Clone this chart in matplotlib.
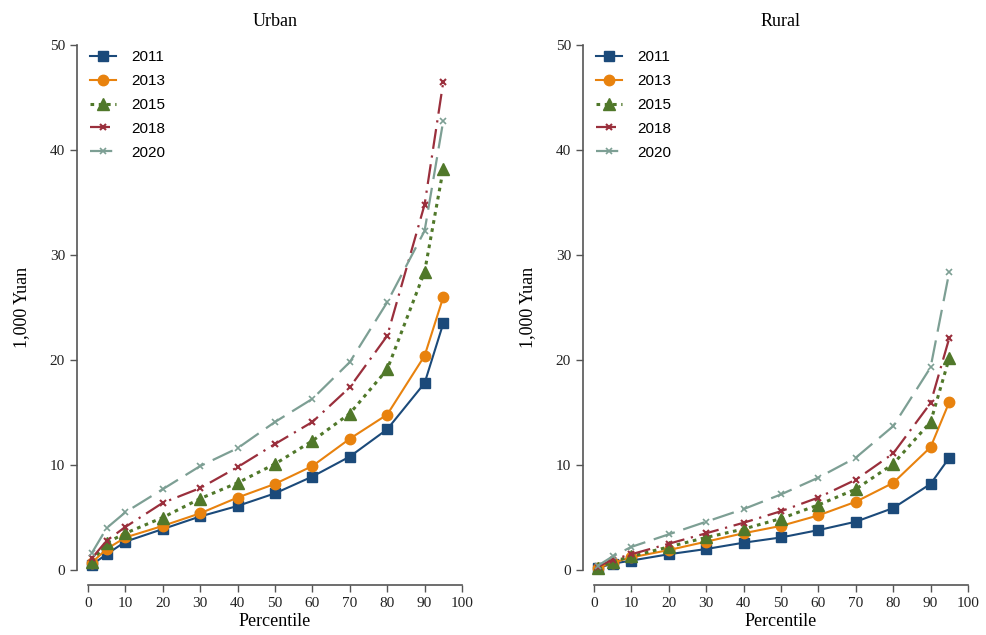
import matplotlib.pyplot as plt
import numpy as np

# percentiles on the x axis
pct = [1, 5, 10, 20, 30, 40, 50, 60, 70, 80, 90, 95]
years = ["2011", "2013", "2015", "2018", "2020"]

urban_2011 = [0.5, 1.5, 2.7, 3.9, 5.1, 6.1, 7.3, 8.9, 10.8, 13.4, 17.8, 23.5]
urban_2013 = [0.7, 2.0, 3.1, 4.2, 5.4, 6.9, 8.2, 9.9, 12.5, 14.8, 20.4, 26.0]
urban_2015 = [0.8, 2.6, 3.5, 5.0, 6.8, 8.3, 10.1, 12.3, 14.9, 19.1, 28.4, 38.2]
urban_2018 = [1.1, 2.8, 4.1, 6.4, 7.8, 9.8, 12.0, 14.1, 17.4, 22.3, 34.8, 46.5]
urban_2020 = [1.6, 4.0, 5.5, 7.7, 9.9, 11.6, 14.1, 16.3, 19.8, 25.5, 32.3, 42.8]

rural_2011 = [0.2, 0.6, 0.9, 1.5, 2.0, 2.6, 3.1, 3.8, 4.6, 5.9, 8.2, 10.7]
rural_2013 = [0.2, 0.7, 1.2, 1.9, 2.7, 3.5, 4.2, 5.2, 6.5, 8.3, 11.7, 16.0]
rural_2015 = [0.2, 0.8, 1.3, 2.2, 3.1, 3.9, 4.9, 6.2, 7.7, 10.1, 14.1, 20.2]
rural_2018 = [0.3, 1.0, 1.5, 2.5, 3.5, 4.5, 5.6, 6.9, 8.6, 11.1, 15.9, 22.1]
rural_2020 = [0.4, 1.3, 2.2, 3.4, 4.6, 5.8, 7.2, 8.8, 10.7, 13.7, 19.3, 28.4]

urban = [urban_2011, urban_2013, urban_2015, urban_2018, urban_2020]
rural = [rural_2011, rural_2013, rural_2015, rural_2018, rural_2020]

styles = [
    dict(color="#1b4a7a", marker="s", ms=7, ls="-", lw=1.5),
    dict(color="#e8820e", marker="o", ms=7.5, ls="-", lw=1.5),
    dict(color="#50782a", marker="^", ms=8, ls=(0, (1.2, 1.5)), lw=2.2),
    dict(color="#9a2f3c", marker="x", ms=5, mew=1.5, ls=(0, (9, 3, 1, 3)), lw=1.6),
    dict(color="#7d9f94", marker="x", ms=5, mew=1.2, ls=(0, (10, 4)), lw=1.6),
]

serif = "Liberation Serif"
sans = "Liberation Sans"
gray = "#555555"

fig = plt.figure(figsize=(9.87, 6.35), dpi=100)
ax1 = fig.add_axes([88 / 987, 65 / 635, 374 / 987, 525 / 635])
ax2 = fig.add_axes([594 / 987, 65 / 635, 374 / 987, 525 / 635])

for ax, data, title in [(ax1, urban, "Urban"), (ax2, rural, "Rural")]:
    for yr, vals, st in zip(years, data, styles):
        ax.plot(pct, vals, label=yr, clip_on=False, **st)
    ax.set_xlim(0, 100)
    ax.set_ylim(0, 50)
    ax.set_xticks(np.arange(0, 101, 10))
    ax.set_yticks(np.arange(0, 51, 10))
    ax.spines["top"].set_visible(False)
    ax.spines["right"].set_visible(False)
    ax.spines["left"].set_position(("outward", 8))
    ax.spines["bottom"].set_position(("outward", 11))
    for s in ["left", "bottom"]:
        ax.spines[s].set_color(gray)
        ax.spines[s].set_linewidth(1.2)
    ax.tick_params(colors=gray, labelcolor="#222222", length=5, width=1,
                   labelsize=11)
    for lab in ax.get_xticklabels() + ax.get_yticklabels():
        lab.set_fontfamily(serif)
    ax.set_title(title, fontsize=13, family=serif, pad=14)
    ax.set_xlabel("Percentile", fontsize=13, family=serif, labelpad=2)
    ax.set_ylabel("1,000 Yuan", fontsize=13, family=serif, labelpad=14)
    ax.legend(loc="upper left", frameon=False, prop={"family": sans, "size": 11},
              handlelength=1.7, handletextpad=1.0, labelspacing=0.65,
              borderaxespad=0.1, bbox_to_anchor=(-0.015, 1.005))

fig.savefig("out.png", dpi=100)
